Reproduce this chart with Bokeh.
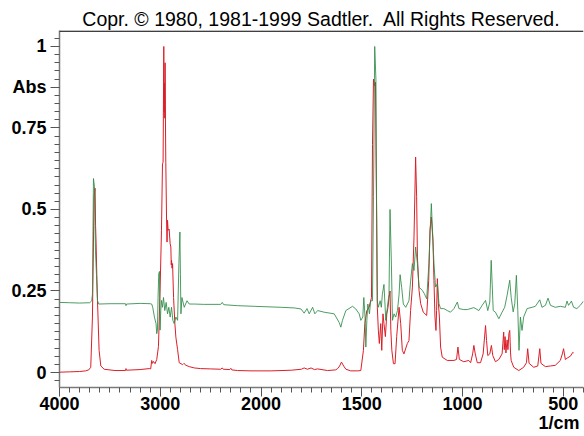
from bokeh.plotting import figure
from bokeh.models import FixedTicker, Range1d, Span, LinearAxis
from bokeh.embed import file_html
from bokeh.resources import INLINE

# ---- data (wavenumber in 1/cm, absorbance) ----
red_wn = [4000, 3900, 3800, 3740, 3710, 3690, 3673, 3657, 3647, 3642, 3637, 3630, 3623, 3607, 3590, 3557,
          3450, 3345, 3340, 3335, 3200, 3110, 3095, 3085, 3078, 3068, 3052, 3035, 3018, 3002, 2988, 2978,
          2972, 2965, 2962, 2958, 2955, 2952, 2948, 2945, 2938, 2933, 2928, 2922, 2912, 2902, 2895, 2891,
          2888, 2883, 2878, 2868, 2855, 2845, 2828, 2812, 2778, 2765, 2745, 2712, 2662, 2600, 2500, 2400,
          2385, 2375, 2310, 2300, 2290, 2235, 2100, 1950, 1850, 1800, 1786, 1770, 1752, 1735, 1719, 1670,
          1630, 1620, 1610, 1601, 1590, 1579, 1555, 1520, 1505, 1492, 1485, 1475, 1464, 1452, 1447, 1442,
          1437, 1432, 1429, 1426, 1423, 1418, 1413, 1406, 1401, 1395, 1390, 1383, 1376, 1370, 1365, 1360,
          1356, 1351, 1343, 1335, 1327, 1315, 1307, 1299, 1291, 1274, 1266, 1258, 1249, 1241, 1233, 1228,
          1224, 1216, 1208, 1195, 1178, 1168, 1162, 1155, 1147, 1142, 1137, 1132, 1129, 1125, 1120, 1115,
          1109, 1101, 1076, 1043, 1030, 1023, 1016, 994, 969, 960, 950, 944, 937, 927, 911, 898, 886, 881,
          875, 865, 857, 850, 837, 820, 804, 800, 796, 793, 789, 785, 779, 775, 770, 766, 762, 759, 746,
          721, 697, 683, 677, 670, 647, 627, 617, 611, 589, 564, 540, 515, 505, 499, 490, 479, 465, 453, 449]
red_abs = [0.001, 0.002, 0.003, 0.005, 0.008, 0.016, 0.17, 0.54, 0.565, 0.45, 0.40, 0.30, 0.22, 0.068, 0.02, 0.01,
           0.006, 0.006, 0.012, 0.007, 0.009, 0.012, 0.011, 0.037, 0.028, 0.034, 0.027, 0.04, 0.08, 0.25, 0.436, 0.64,
           0.645, 1.0, 0.80, 0.887, 0.78, 0.95, 0.75, 0.645, 0.477, 0.40, 0.467, 0.436, 0.44, 0.395, 0.385, 0.33,
           0.344, 0.32, 0.334, 0.23, 0.15, 0.108, 0.07, 0.03, 0.024, 0.028, 0.022, 0.018, 0.014, 0.012, 0.011, 0.01,
           0.014, 0.01, 0.009, 0.013, 0.008, 0.006, 0.005, 0.005, 0.007, 0.01, 0.014, 0.01, 0.014, 0.009, 0.011, 0.006,
           0.008, 0.012, 0.02, 0.032, 0.02, 0.01, 0.005, 0.005, 0.006, 0.068, 0.15, 0.19, 0.20, 0.23, 0.70, 0.90,
           0.88, 0.89, 0.64, 0.456, 0.20, 0.13, 0.089, 0.15, 0.068, 0.18, 0.15, 0.11, 0.18, 0.20, 0.23, 0.25,
           0.13, 0.068, 0.027, 0.027, 0.11, 0.20, 0.15, 0.068, 0.057, 0.089, 0.098, 0.19, 0.262, 0.416, 0.661, 0.539,
           0.354, 0.252, 0.211, 0.185, 0.175, 0.283, 0.436, 0.477, 0.406, 0.283, 0.17, 0.129, 0.19, 0.288, 0.211, 0.17,
           0.078, 0.047, 0.037, 0.037, 0.04, 0.078, 0.04, 0.033, 0.037, 0.03, 0.057, 0.083, 0.057, 0.03, 0.03, 0.057, 0.144, 0.098,
           0.052, 0.057, 0.083, 0.052, 0.033, 0.04, 0.057, 0.09, 0.124, 0.07, 0.11, 0.06, 0.10, 0.07, 0.12, 0.129, 0.06, 0.037, 0.016,
           0.006, 0.016, 0.03, 0.073, 0.028, 0.016, 0.02, 0.073, 0.028, 0.018, 0.02, 0.022, 0.037, 0.057, 0.073, 0.04, 0.045, 0.05, 0.062, 0.06]

green_wn = [4000, 3900, 3800, 3700, 3680, 3673, 3663, 3653, 3643, 3633, 3623, 3610, 3500, 3345, 3340, 3335,
            3200, 3100, 3085, 3075, 3058, 3042, 3035, 3028, 3022, 3015, 3008, 3002, 2995, 2988, 2978, 2968,
            2955, 2942, 2928, 2915, 2902, 2888, 2875, 2862, 2845, 2828, 2815, 2805, 2800, 2795, 2785, 2762,
            2735, 2712, 2662, 2570, 2400, 2385, 2370, 2235, 2067, 1900, 1835, 1802, 1786, 1772, 1761, 1744,
            1733, 1719, 1687, 1637, 1612, 1604, 1596, 1579, 1546, 1530, 1513, 1505, 1495, 1490, 1484, 1480,
            1475, 1470, 1462, 1456, 1447, 1442, 1436, 1430, 1426, 1423, 1418, 1409, 1403, 1398, 1390, 1381,
            1373, 1365, 1360, 1353, 1348, 1340, 1332, 1323, 1315, 1310, 1302, 1294, 1282, 1266, 1258, 1249,
            1241, 1233, 1224, 1216, 1200, 1190, 1178, 1167, 1155, 1150, 1142, 1134, 1125, 1117, 1109, 1093,
            1076, 1060, 1043, 1026, 1018, 994, 977, 944, 919, 903, 886, 875, 865, 858, 853, 848, 837, 820,
            804, 791, 779, 766, 759, 749, 741, 733, 726, 720, 713, 705, 697, 680, 655, 639, 617, 606, 589,
            576, 564, 540, 515, 490, 482, 474, 460, 449, 433, 416, 400]
green_abs = [0.215, 0.214, 0.213, 0.214, 0.22, 0.24, 0.595, 0.57, 0.375, 0.30, 0.22, 0.21, 0.211, 0.211, 0.205, 0.21,
             0.212, 0.211, 0.21, 0.20, 0.17, 0.15, 0.119, 0.13, 0.23, 0.303, 0.31, 0.13, 0.19, 0.221, 0.20, 0.23,
             0.19, 0.215, 0.18, 0.20, 0.17, 0.20, 0.16, 0.15, 0.17, 0.16, 0.334, 0.431, 0.30, 0.18, 0.23, 0.20,
             0.22, 0.21, 0.21, 0.209, 0.209, 0.215, 0.208, 0.205, 0.203, 0.20, 0.198, 0.195, 0.182, 0.196, 0.18, 0.20,
             0.18, 0.19, 0.185, 0.18, 0.153, 0.139, 0.16, 0.19, 0.203, 0.195, 0.18, 0.16, 0.17, 0.23, 0.17, 0.078,
             0.16, 0.21, 0.18, 0.22, 0.22, 0.54, 1.0, 0.9, 0.44, 0.22, 0.20, 0.22, 0.20, 0.24, 0.27, 0.16,
             0.20, 0.24, 0.50, 0.33, 0.16, 0.18, 0.17, 0.19, 0.24, 0.30, 0.26, 0.21, 0.20, 0.22, 0.28, 0.334,
             0.313, 0.385, 0.334, 0.262, 0.252, 0.242, 0.226, 0.334, 0.518, 0.446, 0.334, 0.262, 0.272, 0.211, 0.196, 0.196,
             0.19, 0.185, 0.196, 0.216, 0.196, 0.193, 0.193, 0.199, 0.19, 0.206, 0.221, 0.19, 0.216, 0.344, 0.27, 0.19, 0.185, 0.165,
             0.185, 0.20, 0.237, 0.283, 0.231, 0.186, 0.211, 0.298, 0.19, 0.068, 0.17, 0.129, 0.17, 0.196, 0.20, 0.203, 0.223, 0.20, 0.206,
             0.228, 0.206, 0.20, 0.203, 0.20, 0.219, 0.206, 0.219, 0.20, 0.196, 0.206, 0.219]

x_tick_wn = [4000, 3000, 2000, 1500, 1000, 500]
y_ticks = [0, 0.25, 0.5, 0.75, 0.875, 1]
y_tick_labels = ["0", "0.25", "0.5", "0.75", "Abs", "1"]
unit_label = "1/cm"
title_text = "Copr. \u00a9 1980, 1981-1999 Sadtler.\u00a0 All Rights Reserved."


def pos(w):
    # axis scale: 0.1 px per 1/cm above 2000, doubled below 2000
    return w if w >= 2000 else 2 * w - 2000


font = "Liberation Sans"

p = figure(width=584, height=436, output_backend="svg", toolbar_location=None,
           x_range=Range1d(4000, -1200), y_range=Range1d(-0.046, 1.049),
           min_border_left=59, min_border_right=1, min_border_top=30, min_border_bottom=49,
           title=title_text)
p.outline_line_color = None
p.xgrid.visible = False
p.ygrid.visible = False
p.background_fill_color = "white"
p.border_fill_color = "white"

p.title.align = "center"
p.title.text_font = font
p.title.text_font_style = "normal"
p.title.text_font_size = "19.5px"
p.title.text_color = "black"
p.title.standoff = 2
p.title.offset = 0

p.line([pos(w) for w in red_wn], red_abs, line_color="#dc1e28", line_width=1)
p.line([pos(w) for w in green_wn], green_abs, line_color="#2e8b46", line_width=1, line_alpha=0.85)

ax = p.xaxis[0]
ax.ticker = FixedTicker(ticks=[pos(w) for w in x_tick_wn],
                        minor_ticks=[pos(4000 - 100 * i) for i in range(21)] + [pos(2000 - 50 * i) for i in range(1, 33)])
ax.major_label_overrides = {pos(w): str(w) for w in x_tick_wn}
ax.axis_line_color = "#7a7a7a"
ax.axis_line_width = 1.5
ax.major_tick_line_color = "#555555"
ax.minor_tick_line_color = "#555555"
ax.major_tick_out = 9
ax.major_tick_in = 0
ax.minor_tick_out = 5
ax.minor_tick_in = 0
ax.major_label_standoff = 0
ax.major_label_text_font = font
ax.major_label_text_font_style = "bold"
ax.major_label_text_font_size = "18px"
ax.major_label_text_color = "black"

# second (label-only) bottom axis carrying the unit text at the right end
unit_x = -957
ux = LinearAxis(ticker=FixedTicker(ticks=[unit_x], minor_ticks=[]),
                major_label_overrides={unit_x: unit_label},
                axis_line_color=None, major_tick_line_color=None, minor_tick_line_color=None,
                major_tick_out=0, major_tick_in=0, major_label_standoff=0,
                major_label_text_font=font, major_label_text_font_style="bold",
                major_label_text_font_size="18px", major_label_text_color="black")
p.add_layout(ux, "below")

ay = p.yaxis[0]
ay.ticker = FixedTicker(ticks=y_ticks, minor_ticks=[round(-0.025 + 0.025 * i, 3) for i in range(43)])
ay.major_label_overrides = {float(t): s for t, s in zip(y_ticks, y_tick_labels)}
ay.axis_line_color = "#7a7a7a"
ay.axis_line_width = 1.5
ay.major_tick_line_color = "#555555"
ay.minor_tick_line_color = "#555555"
ay.major_tick_out = 9
ay.major_tick_in = 0
ay.minor_tick_out = 5
ay.minor_tick_in = 0
ay.major_label_standoff = 4
ay.major_label_text_font = font
ay.major_label_text_font_style = "bold"
ay.major_label_text_font_size = "18px"
ay.major_label_text_color = "black"

p.add_layout(Span(location=1.047, dimension="width", line_color="black", line_width=1.2))

open("out.html", "w").write(file_html(p, INLINE))
